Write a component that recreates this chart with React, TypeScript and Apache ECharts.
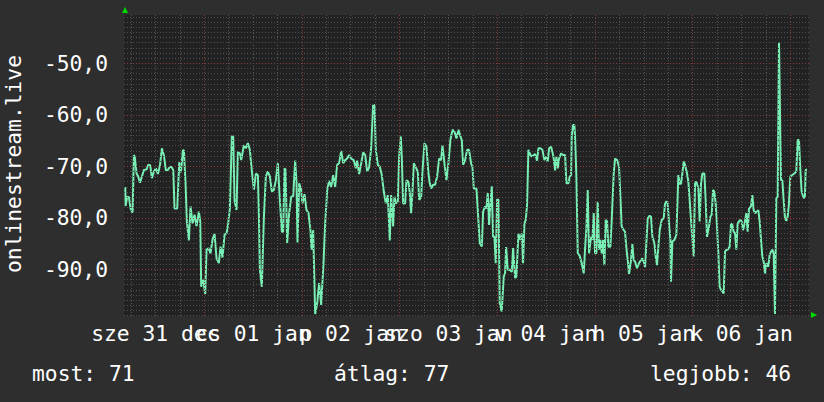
import React, { useEffect, useRef } from "react";
import * as echarts from "echarts";

// time axis: hours since Dec 31 00:00
const hours = [
  4.61, 4.69, 5.10, 5.51, 5.92, 6.41, 6.73, 6.98, 7.39, 7.80, 8.21, 8.70, 9.19, 9.85, 10.26, 10.75, 11.16, 11.65, 12.14, 12.63,
  13.12, 13.61, 14.10, 14.59, 15.09, 15.58, 16.07, 16.40, 16.72, 17.38, 17.87, 18.28, 18.77, 19.02, 19.42, 19.75, 20.24, 20.65, 21.14, 21.63,
  22.13, 22.70, 23.03, 23.27, 23.76, 24.25, 24.58, 25.07, 25.56, 26.06, 26.55, 27.04, 27.61, 28.02, 28.51, 29.00, 29.50, 29.90, 30.31, 30.80,
  31.13, 31.46, 31.95, 32.28, 32.77,
  33.10, 33.75, 34.24, 34.73, 35.22, 35.72, 36.21, 36.70, 37.19, 37.43, 37.68, 38.17, 38.66, 39.15, 39.64, 40.14, 40.63, 41.12, 41.61, 42.10,
  42.59, 43.08, 43.41, 43.74, 43.98, 44.39, 44.88, 45.38, 45.87, 46.36, 46.69, 46.93, 47.34, 47.75, 48.16, 48.65, 49.14, 49.63, 50.12, 50.37,
  50.78, 51.27, 51.76, 52.25, 52.74, 53.24, 53.73, 54.22, 54.71, 55.20, 55.69, 56.18, 56.67, 57.16, 57.66, 58.15, 58.64, 59.13, 59.62, 60.11,
  60.76, 61.25, 61.58, 62.07, 62.56, 63.05, 63.55, 64.04, 64.53, 65.02, 65.51, 65.84, 66.17, 66.66, 67.15, 67.64, 68.13, 68.62, 69.11, 69.60,
  69.93, 70.42, 70.75, 71.08, 71.57, 71.90, 72.31, 72.55, 72.88, 73.37, 73.70, 74.19, 74.52, 74.84, 75.17, 75.50, 75.99, 76.48, 76.81, 77.30,
  77.63, 78.12, 78.61, 79.10, 79.43, 79.76, 80.25, 80.74, 81.23, 81.72, 82.21, 82.54, 83.03, 83.52, 84.01, 84.50, 85.00, 85.49, 85.98, 86.47,
  86.96, 87.29, 87.62, 88.11, 88.60, 89.09, 89.58,
  89.91, 90.23, 90.89, 91.22, 91.71, 92.20, 92.53, 93.02, 93.35, 93.67, 94.00, 94.33, 94.66, 94.98, 95.31, 95.64, 95.97, 96.29, 96.62, 97.11,
  97.60, 97.93, 98.18, 98.59, 99.08, 99.57, 99.90, 100.39, 100.71, 101.21, 101.70, 102.02, 102.35, 102.68, 103.01, 103.33, 103.66, 104.15, 104.48, 104.97,
  105.30, 105.79, 106.12, 106.61, 107.10, 107.59, 107.92, 108.41, 108.74, 109.23, 109.56, 109.88, 110.21, 110.54, 110.87, 111.19, 111.68, 112.18, 112.67, 113.00,
  113.49, 113.81, 114.14, 114.30, 114.63, 114.96, 115.12, 115.45, 115.78, 116.27, 116.76, 117.25, 117.58, 117.91, 118.23,
  118.56, 119.05, 119.38, 119.71, 120.03, 120.36, 120.69, 121.02, 121.34, 121.67, 122.00, 122.33, 122.65, 122.98, 123.31, 123.80, 124.13, 124.62, 124.95, 125.44,
  125.93, 126.26, 126.58, 127.08, 127.40, 127.73, 128.06, 128.39, 128.88, 129.20, 129.53, 129.86, 130.35, 130.84, 131.33, 131.66, 131.99, 132.32, 132.64, 132.97,
  133.46, 133.79, 134.12, 134.61, 134.93, 135.26, 135.59, 135.92, 136.41, 136.90, 137.23, 137.56, 137.88, 138.21, 138.54, 138.70, 139.03, 139.52, 140.01, 140.50,
  140.83, 141.16, 141.48, 141.81, 142.14, 142.63, 142.96, 143.45, 143.78, 144.27, 144.60, 144.92, 145.41, 145.74, 146.07, 146.40,
  146.89, 147.21, 147.54, 148.03, 148.36, 148.69, 149.02, 149.34, 149.67, 150.00, 150.33, 150.65, 150.98, 151.31, 151.64, 151.96, 152.29, 152.62, 153.11, 153.44,
  153.76, 154.09, 154.42, 154.75, 155.07, 155.40, 155.73, 156.06, 156.38, 156.71, 157.20, 157.53, 157.86, 158.35, 158.68, 159.00, 159.33, 159.82, 160.15, 160.48,
  160.81, 161.13, 161.46, 161.79, 162.12, 162.61, 162.93, 163.26, 163.59, 163.92, 164.24, 164.57, 164.90, 165.23, 165.39, 165.72, 166.05, 166.37, 166.70, 167.03,
  167.35, 167.68, 168.01, 168.50, 168.99, 169.48, 169.81, 170.14, 170.47, 170.79, 171.28, 171.61, 171.78, 172.11,
];

const signal = [
  -74.0, -77.7, -75.9, -76.0, -78.2, -79.0, -67.8, -68.3, -71.4, -72.0, -73.2, -72.0, -70.7, -70.6, -69.7, -69.8, -72.3, -71.0, -70.4, -71.5,
  -69.9, -66.5, -67.9, -70.8, -70.7, -70.1, -70.2, -70.8, -78.2, -78.2, -69.2, -71.2, -66.9, -66.9, -73.3, -80.7, -84.4, -77.8, -81.1, -79.4,
  -81.6, -78.8, -80.7, -93.4, -92.0, -94.8, -86.2, -85.9, -86.9, -84.2, -83.1, -87.9, -88.8, -85.6, -87.7, -83.3, -83.0, -81.1, -78.2, -64.1,
  -64.2, -76.7, -78.5, -67.2, -67.5,
  -68.8, -65.9, -66.5, -65.5, -66.8, -71.0, -74.6, -71.4, -71.7, -79.1, -90.1, -93.4, -80.1, -72.0, -71.0, -72.0, -74.9, -74.6, -72.7, -69.4,
  -76.5, -82.7, -82.7, -70.4, -70.6, -84.9, -79.1, -75.9, -75.8, -68.9, -73.3, -84.8, -73.3, -74.3, -77.2, -75.4, -78.5, -79.1, -82.5, -86.2,
  -82.4, -98.7, -96.6, -92.7, -96.9, -90.1, -81.1, -74.6, -72.8, -74.0, -71.7, -74.0, -69.7, -69.4, -67.0, -69.4, -68.8, -68.5, -67.8, -68.5,
  -68.8, -70.4, -68.9, -71.5, -69.5, -67.3, -67.8, -71.0, -70.2, -66.5, -58.1, -58.1, -66.8, -69.7, -70.1, -71.7, -74.9, -77.2, -75.6, -84.4,
  -75.6, -81.7, -75.9, -77.2, -76.9, -68.1, -64.2, -68.1, -77.2, -77.2, -72.7, -73.0, -75.2, -79.1, -75.2, -69.4, -70.2, -71.0, -76.5, -76.0,
  -71.0, -65.5, -66.2, -71.4, -73.3, -74.3, -73.6, -73.6, -72.0, -68.5, -68.8, -65.9, -69.4, -72.7, -69.4, -64.9, -62.9, -63.3, -64.6, -62.9,
  -64.2, -64.9, -69.7, -68.8, -66.8, -66.8, -69.5,
  -70.1, -74.3, -74.3, -78.5, -84.9, -85.6, -78.8, -77.8, -78.2, -75.2, -81.4, -77.2, -73.9, -83.7, -83.7, -88.8, -76.4, -76.5, -96.6, -98.2,
  -91.4, -90.8, -85.7, -90.1, -90.1, -90.5, -85.9, -91.7, -91.4, -83.1, -84.3, -83.0, -88.8, -81.1, -80.4, -77.5, -66.8, -67.8, -68.1, -67.8,
  -67.6, -68.9, -66.5, -66.5, -66.8, -68.8, -68.1, -69.1, -66.5, -66.2, -67.2, -68.5, -70.8, -68.1, -70.4, -68.5, -67.5, -67.8, -67.8, -73.3,
  -73.3, -72.0, -71.7, -64.2, -62.0, -62.0, -64.2, -72.0, -86.9, -87.4, -88.8, -90.8, -86.0, -82.0, -74.6,
  -86.9, -83.7, -84.3, -79.1, -86.9, -86.9, -76.9, -86.2, -84.3, -86.9, -84.3, -89.2, -80.4, -80.7, -85.6, -85.6, -80.4, -71.4, -68.5, -68.8,
  -70.1, -75.9, -81.7, -82.4, -82.7, -85.9, -88.2, -90.9, -88.2, -85.1, -88.2, -88.5, -89.8, -88.8, -88.2, -87.9, -88.5, -89.6, -84.9, -80.1,
  -79.6, -79.8, -83.7, -84.9, -87.5, -89.2, -85.6, -82.4, -80.4, -80.1, -77.2, -76.8, -77.2, -81.1, -84.3, -92.4, -84.6, -84.3, -83.3, -71.7,
  -73.4, -73.4, -71.4, -69.1, -69.7, -71.4, -73.0, -78.5, -82.4, -87.5, -73.3, -73.0, -74.3, -80.7, -73.3, -71.4,
  -71.4, -76.5, -83.7, -81.7, -79.8, -79.4, -74.6, -74.9, -77.2, -81.7, -86.9, -93.4, -94.0, -94.3, -94.7, -86.6, -86.2, -86.2, -85.6, -81.1,
  -81.4, -82.7, -83.0, -86.2, -81.1, -80.7, -80.4, -80.7, -82.4, -81.4, -79.1, -82.7, -78.2, -77.8, -75.6, -78.5, -79.1, -78.8, -78.5, -80.7,
  -84.3, -87.5, -88.5, -90.8, -88.8, -89.5, -87.2, -86.6, -86.2, -86.9, -98.7, -76.2, -75.9, -46.0, -46.0, -72.7, -72.7, -76.5, -80.1, -80.6,
  -79.8, -77.2, -72.0, -71.7, -71.4, -71.0, -64.9, -64.9, -70.7, -74.9, -76.2, -75.8, -70.7, -70.6,
];

const dayLabels = ["sze 31 dec", "cs 01 jan", "p 02 jan", "szo 03 jan", "v 04 jan", "h 05 jan", "k 06 jan"];
const dayLabelHours = [12, 36, 60, 84, 108, 132, 156];
const yTickValues = [-90, -80, -70, -60, -50];
const yName = "onlinestream.live";
const legendTexts = ["most: 71", "átlag: 77", "legjobb: 46"];

const X_MIN = 4.3;
const X_MAX = 172.6;
const Y_MIN = -99.07;
const Y_MAX = -40.62;

const FONT = '"DejaVu Sans Mono", monospace';
const FS = 21.3;

export default function App() {
  const ref = useRef<HTMLDivElement>(null);

  useEffect(() => {
    if (!ref.current) return;
    const chart = echarts.init(ref.current, undefined, { renderer: "svg" });
    const data = hours.map((h, i) => [h, signal[i]]);

    const gridLines: any[] = [];
    for (let v = -99; v <= -41; v++) {
      const major = v % 10 === 0;
      gridLines.push({
        yAxis: v,
        lineStyle: { color: major ? "#8a3b3b" : "#4f4f4f", type: [1, 2], width: 1 },
      });
    }
    for (let h = 6; h <= 168; h += 6) {
      const major = h % 24 === 0;
      gridLines.push({
        xAxis: h,
        lineStyle: { color: major ? "#8a3b3b" : "#555555", type: [1, 2], width: 1 },
      });
    }

    const legendX = [32, 334, 650];

    const baseGraphics: any[] = [
      {
        type: "text",
        x: 13,
        y: 164,
        rotation: Math.PI / 2,
        style: {
          text: yName,
          fill: "#ffffff",
          font: `${FS}px ${FONT}`,
          align: "center",
          verticalAlign: "middle",
        },
      },
      ...legendTexts.map((t, i) => ({
        type: "text",
        x: legendX[i],
        y: 373,
        style: {
          text: t,
          fill: "#ffffff",
          font: `${FS}px ${FONT}`,
          align: "left",
          verticalAlign: "middle",
        },
      })),
      {
        type: "polygon",
        shape: { points: [[122, 13], [128, 13], [125, 7]] },
        style: { fill: "#00dd00" },
      },
      {
        type: "polygon",
        shape: { points: [[811, 312], [811, 318], [817, 315]] },
        style: { fill: "#00dd00" },
      },
    ];

    chart.setOption({
      animation: false,
      backgroundColor: "#2e2e2e",
      grid: {
        left: 124,
        top: 15,
        right: 15,
        bottom: 86,
        show: true,
        backgroundColor: "#222222",
        borderWidth: 0,
      },
      xAxis: {
        type: "value",
        min: X_MIN,
        max: X_MAX,
        axisLine: { show: false },
        axisTick: { show: false },
        splitLine: { show: false },
        axisLabel: { show: false },
      },
      yAxis: {
        type: "value",
        min: Y_MIN,
        max: Y_MAX,
        axisLine: { show: false },
        axisTick: { show: false },
        splitLine: { show: false },
        axisLabel: {
          customValues: yTickValues,
          formatter: (v: number) => v.toFixed(1).replace(".", ","),
          color: "#ffffff",
          fontFamily: FONT,
          fontSize: FS,
          margin: 16,
        },
      },
      series: [
        {
          type: "line",
          data,
          z: 1,
          symbol: "none",
          silent: true,
          lineStyle: { opacity: 0 },
          markLine: {
            silent: true,
            symbol: ["none", "none"],
            label: { show: false },
            emphasis: { disabled: true },
            animation: false,
            data: gridLines,
          },
        },
        {
          type: "line",
          data,
          z: 3,
          symbol: "none",
          showSymbol: false,
          silent: true,
          lineStyle: { color: "#77eeb3", width: 2 },
        },
      ],
      graphic: baseGraphics,
    });

    // day labels centred at noon of each day, positioned through the x scale
    const dayGraphics = dayLabelHours.map((h, i) => {
      const px = chart.convertToPixel({ xAxisIndex: 0 }, h) as number;
      return {
        type: "text",
        x: px,
        y: 323,
        style: {
          text: dayLabels[i],
          fill: "#ffffff",
          font: `${FS}px ${FONT}`,
          align: "center",
          verticalAlign: "top",
        },
      };
    });
    chart.setOption({ graphic: [...baseGraphics, ...dayGraphics] });

    return () => chart.dispose();
  }, []);

  return <div ref={ref} style={{ width: 824, height: 402, position: "absolute", left: 0, top: 0 }} />;
}
